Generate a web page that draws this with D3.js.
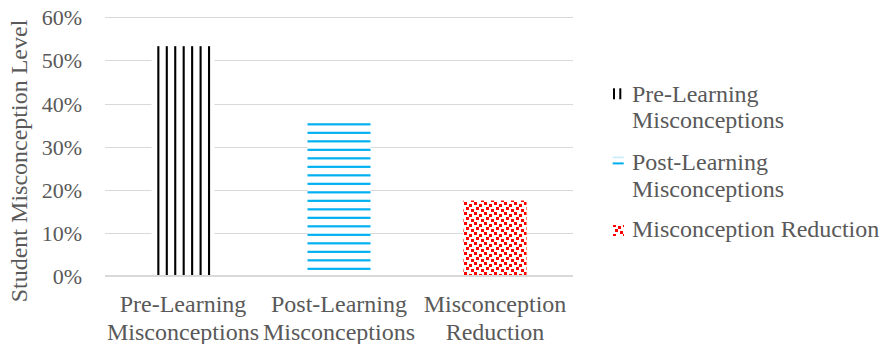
<!DOCTYPE html>
<html>
<head>
<meta charset="utf-8">
<script src="https://cdn.jsdelivr.net/npm/d3@7/dist/d3.min.js"></script>
<style>
  html, body { margin: 0; padding: 0; background: #fff; }
  svg { display: block; }
  text { font-family: "Liberation Serif", "Times New Roman", serif; fill: #595959; }
</style>
</head>
<body>
<svg id="chart" width="882" height="344"></svg>
<script>
// Category labels (two lines each) and misconception levels
const categories = ["Pre-Learning Misconceptions", "Post-Learning Misconceptions", "Misconception Reduction"];
const categoryLines = [["Pre-Learning", "Misconceptions"], ["Post-Learning", "Misconceptions"], ["Misconception", "Reduction"]];
const values = [0.533, 0.355, 0.175];
const yTicks = [0, 0.1, 0.2, 0.3, 0.4, 0.5, 0.6];
const legendLines = [["Pre-Learning", "Misconceptions"], ["Post-Learning", "Misconceptions"], ["Misconception Reduction"]];
const yTitle = "Student Misconception Level";

const svg = d3.select("#chart");
const defs = svg.append("defs");

const margin = { left: 105, right: 309, top: 17.3, bottom: 68 };
const W = 882, H = 344;

const x = d3.scaleBand()
  .domain(categories)
  .range([margin.left, W - margin.right])
  .paddingInner(0.596)
  .paddingOuter(0.298);

const y = d3.scaleLinear()
  .domain([0, 0.6])
  .range([H - margin.bottom, margin.top]);

// Red confetti fill pattern
function confetti(id, ox, oy) {
  const p = defs.append("pattern").attr("id", id)
    .attr("patternUnits", "userSpaceOnUse")
    .attr("x", ox).attr("y", oy).attr("width", 10).attr("height", 10);
  p.append("rect").attr("width", 10).attr("height", 10).attr("fill", "#fff");
  [[0, 0], [5, 2], [2, 5], [7, 7]].forEach(([a, b]) => {
    p.append("rect").attr("x", a).attr("y", b).attr("width", 3).attr("height", 3).attr("fill", "#FF0000");
  });
}
confetti("pRed", 464, 202);
confetti("pRedL", 613, 224);

// Gridlines
svg.append("g").selectAll("line")
  .data(yTicks.filter(d => d > 0))
  .join("line")
  .attr("x1", margin.left).attr("x2", W - margin.right)
  .attr("y1", d => Math.round(y(d)) + 0.5).attr("y2", d => Math.round(y(d)) + 0.5)
  .attr("stroke", "#d9d9d9").attr("stroke-width", 1);

// Bars: white base rects, then hatch marks derived from each bar's geometry
const bars = svg.append("g");
bars.selectAll("rect.bar")
  .data(values)
  .join("rect")
  .attr("class", "bar")
  .attr("x", (d, i) => x(categories[i]))
  .attr("width", x.bandwidth())
  .attr("y", d => y(d))
  .attr("height", d => y(0) - y(d))
  .attr("fill", (d, i) => i === 2 ? "url(#pRed)" : "#fff");

// Bar 1: vertical black lines
{
  const x0 = x(categories[0]), bw = x.bandwidth();
  const top = y(values[0]), bottom = y(0);
  const xs = d3.range(x0 + 5.8, x0 + bw - 4, 8.45);
  bars.append("g").selectAll("rect")
    .data(xs).join("rect")
    .attr("x", d => d).attr("width", 2.1)
    .attr("y", top).attr("height", bottom - top)
    .attr("fill", "#000");
}
// Bar 2: horizontal blue lines
{
  const x0 = x(categories[1]), bw = x.bandwidth();
  const top = y(values[1]), bottom = y(0);
  const ys = d3.range(top + 0.3, bottom - 6, 8.5);
  bars.append("g").selectAll("rect")
    .data(ys).join("rect")
    .attr("x", x0).attr("width", bw)
    .attr("y", d => d).attr("height", 2.2)
    .attr("fill", "#00B0F0");
}

// Baseline
svg.append("line")
  .attr("x1", margin.left).attr("x2", W - margin.right)
  .attr("y1", y(0)).attr("y2", y(0))
  .attr("stroke", "#d9d9d9").attr("stroke-width", 2);

// Y axis tick labels
const yAxis = d3.axisLeft(y).tickValues(yTicks).tickFormat(d3.format(".0%")).tickSize(0).tickPadding(0);
const yg = svg.append("g").attr("transform", "translate(82,0)").call(yAxis);
yg.attr("font-family", null);
yg.select(".domain").remove();
yg.selectAll("text")
  .attr("font-size", "22px")
  .attr("fill", "#595959")
  .attr("dy", "0.34em");

// Y axis title
svg.append("text")
  .attr("transform", "translate(27,161) rotate(-90)")
  .attr("text-anchor", "middle")
  .attr("font-size", "24px")
  .text(yTitle);

// Category labels
const xl = svg.append("g").selectAll("text")
  .data(categories)
  .join("text")
  .attr("text-anchor", "middle")
  .attr("font-size", "24px");
xl.each(function (d, i) {
  const cx = x(d) + x.bandwidth() / 2;
  categoryLines[i].forEach((line, k) => {
    d3.select(this).append("tspan")
      .attr("x", cx)
      .attr("y", 311.5 + k * 28.5)
      .text(line);
  });
});

// Legend
const legendY = [[101.7, 128.3], [170, 196.7], [236.7]];
const lg = svg.append("g");
// swatch: two vertical black lines
lg.selectAll("rect.v").data([613, 619.3]).join("rect").attr("class", "v")
  .attr("x", d => d).attr("y", 88.3).attr("width", 2).attr("height", 11).attr("fill", "#000");
// swatch: horizontal blue lines
lg.append("rect").attr("x", 612.7).attr("y", 156.6).attr("width", 11).attr("height", 1.6).attr("fill", "#c5ecfb");
lg.append("rect").attr("x", 612.7).attr("y", 162.4).attr("width", 11).attr("height", 2).attr("fill", "#00B0F0");
// swatch: red confetti
lg.append("rect").attr("x", 613).attr("y", 225).attr("width", 11).attr("height", 11).attr("fill", "url(#pRedL)");
legendLines.forEach((lines, i) => {
  const t = lg.append("text").attr("font-size", "24px");
  lines.forEach((line, k) => {
    t.append("tspan").attr("x", 632).attr("y", legendY[i][k]).text(line);
  });
});
</script>
</body>
</html>
